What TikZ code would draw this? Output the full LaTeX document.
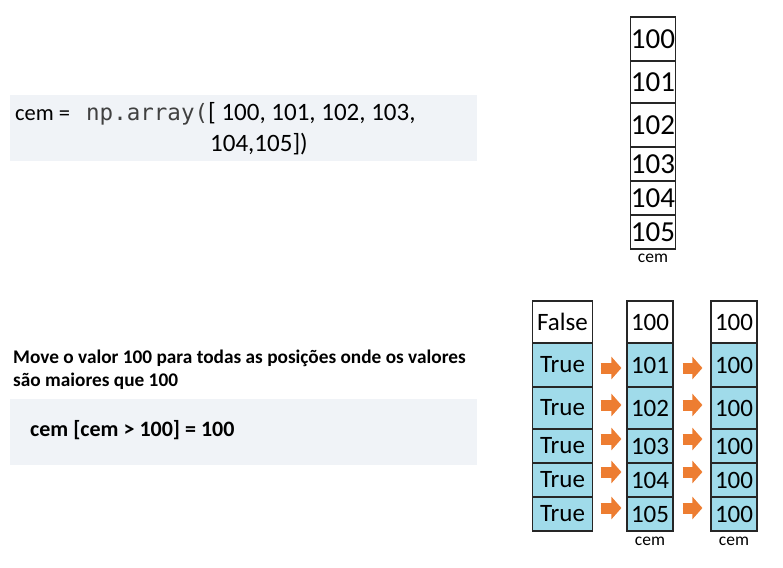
\documentclass[tikz,border=0pt]{standalone}
\usepackage{fontspec}
\setmainfont{Carlito}
\newfontfamily\codefont{DejaVu Sans Mono}
\usetikzlibrary{arrows.meta}
\usetikzlibrary{positioning}

\definecolor{codegray}{RGB}{240,243,247}
\definecolor{cellblue}{RGB}{160,219,234}
\definecolor{arroworange}{RGB}{237,125,49}

\tikzset{
  cell/.style={draw=black!85, line width=1.2pt, inner sep=0pt, minimum width=46pt},
  codebox/.style={fill=codegray, inner sep=0pt, anchor=north west, minimum width=467pt, minimum height=66pt},
  txt/.style={anchor=base west, inner sep=0pt},
  lbl/.style={inner sep=0pt, font=\fontsize{17.5}{19}\selectfont},
  blockarr/.style={draw=arroworange, line width=11pt, -{Triangle[length=10pt, width=22pt]}, fill=arroworange}
}

\begin{document}
\begin{tikzpicture}[x=1pt, y=-1pt]
  \useasboundingbox (0,0) rectangle (783,567);

  \begin{scope}
    \node[codebox] (code1) at (10,95) {};
    \node[txt, font=\fontsize{22.5}{26}\selectfont] (lhs) at (15,120) {cem =};
    \node[txt, font=\codefont\fontsize{22.5}{26}\selectfont, text=black!75] (fn) at (86,120) {np.array(};
    \node[txt, font=\fontsize{25}{29}\selectfont] (vals1) at (208,120) {[ 100, 101, 102, 103,};
    \node[txt, font=\fontsize{25}{29}\selectfont] (vals2) at (210,151) {104,105])};
  \end{scope}

  \begin{scope}[font=\fontsize{29}{32}\selectfont]
    \foreach \n/\top/\bot/\val in {1/17/61/100, 2/61/103/101, 3/103/147/102, 4/147/181/103, 5/181/215/104, 6/215/249/105}
      \node[cell, fill=white, minimum width=45pt, minimum height={(\bot-\top)*1pt}] (t\n) at (653,{(\top+\bot)/2}) {\val};
  \end{scope}
  \node[lbl, below=4pt of t6] (tlbl) {cem};

  \node[txt, font=\bfseries\fontsize{19.3}{23}\selectfont] (msg1) at (13,363) {Move o valor 100 para todas as posições onde os valores};
  \node[txt, font=\bfseries\fontsize{19.3}{23}\selectfont] (msg2) at (13,386) {são maiores que 100};
  \node[codebox] (code2) at (10,399) {};
  \node[txt, font=\bfseries\fontsize{22}{26}\selectfont] (cmd) at (30,436) {cem [cem > 100] = 100};

  \begin{scope}[font=\fontsize{25}{29}\selectfont]
    \foreach \n/\top/\bot/\col/\flag/\old in {1/301/343/white/False/100, 2/343/387/cellblue/True/101, 3/387/429/cellblue/True/102, 4/429/463/cellblue/True/103, 5/463/497/cellblue/True/104, 6/497/531/cellblue/True/105} {
      \node[cell, fill=\col, minimum width=60pt, minimum height={(\bot-\top)*1pt}] (b\n) at (562.5,{(\top+\bot)/2}) {\flag};
      \node[cell, fill=\col, minimum height={(\bot-\top)*1pt}] (m\n) at (650,{(\top+\bot)/2}) {\old};
      \node[cell, fill=\col, minimum height={(\bot-\top)*1pt}] (n\n) at (734,{(\top+\bot)/2}) {100};
    }
  \end{scope}
  \node[lbl, below=5pt of m6] (mlbl) {cem};
  \node[lbl, below=5pt of n6] (nlbl) {cem};

  \foreach \n/\dy in {2/-3, 3/3, 4/7, 5/8, 6/6} {
    \draw[blockarr] ([xshift=7.5pt, yshift=\dy pt]b\n.east) -- ([xshift=-5pt, yshift=\dy pt]m\n.west);
    \draw[blockarr] ([xshift=9pt, yshift=\dy pt]m\n.east) -- ([xshift=-8pt, yshift=\dy pt]n\n.west);
  }
\end{tikzpicture}
\end{document}
